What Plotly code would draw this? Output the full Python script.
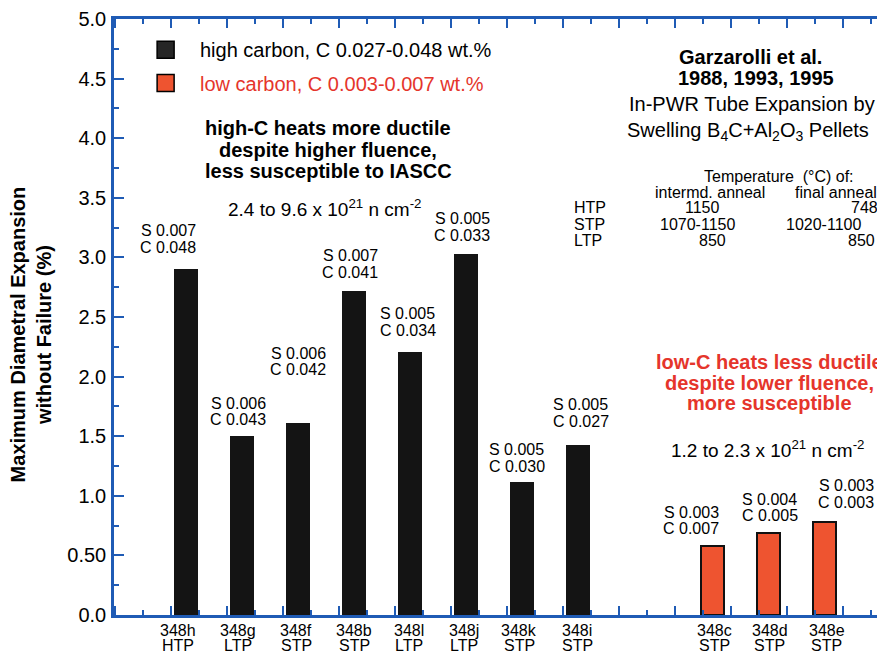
import numpy as np
import plotly.graph_objects as go

# ---------------- data ----------------
high_names = ["348h", "348g", "348f", "348b", "348l", "348j", "348k", "348i"]
high_types = ["HTP", "LTP", "STP", "STP", "LTP", "LTP", "STP", "STP"]
high_values = [2.90, 1.50, 1.61, 2.72, 2.21, 3.03, 1.12, 1.43]
high_S = ["0.007", "0.006", "0.006", "0.007", "0.005", "0.005", "0.005", "0.005"]
high_C = ["0.048", "0.043", "0.042", "0.041", "0.034", "0.033", "0.030", "0.027"]

low_names = ["348c", "348d", "348e"]
low_types = ["STP", "STP", "STP"]
low_values = [0.58, 0.69, 0.78]
low_S = ["0.003", "0.004", "0.003"]
low_C = ["0.007", "0.005", "0.003"]

y_tickvals = [0, 0.5, 1.0, 1.5, 2.0, 2.5, 3.0, 3.5, 4.0, 4.5, 5.0]
y_ticktext = ["0.0", "0.50", "1.0", "1.5", "2.0", "2.5", "3.0", "3.5", "4.0", "4.5", "5.0"]

temp_rows = ["HTP", "STP", "LTP"]
temp_intermd = ["1150", "1070-1150", "850"]
temp_final = ["748", "1020-1100", "850"]

# ---------------- layout helpers ----------------
BLUE = "#1f5bb5"
RED = "#e5352b"
BAR_RED = "#ee5430"
FONT = "Liberation Sans, Arial, Helvetica, sans-serif"

# page geometry (the html body adds an 8px margin)
OFF = 8
PAGE_W, PAGE_H = 885, 653
PL, PT, PB_Y, PR = 114, 15, 615, 885   # plot area in page pixels
W, H = PAGE_W - OFF, PAGE_H - OFF
PW, PH = PR - PL, PB_Y - PT


def pxx(p):
    return (p - PL) / PW


def pxy(p):
    return (PB_Y - p) / PH


high_x = np.arange(len(high_values)) + 0.27
low_x = np.arange(len(low_values)) + 9.67

# label placement (positions, not data)
high_lab_x = [-0.054, 1.196, 2.268, 3.196, 4.223, 5.196, 6.17, 7.316]
high_lab_y = [3.083, 1.639, 2.056, 2.875, 2.389, 3.186, 1.25, 1.625]
low_lab_x = [9.286, 10.696, 12.06]
low_lab_y = [0.7225, 0.833, 0.944]
high_cat_x = [0.125, 1.196, 2.232, 3.268, 4.25, 5.232, 6.214, 7.25]
low_cat_x = [9.696, 10.696, 11.714]

fig = go.Figure()

fig.add_trace(go.Bar(
    x=high_x, y=high_values, width=0.43,
    marker=dict(color="#141414", line=dict(width=0)),
    showlegend=False, hoverinfo="skip",
))
fig.add_trace(go.Bar(
    x=low_x, y=low_values, width=0.40,
    marker=dict(color=BAR_RED, line=dict(color="#111111", width=2)),
    showlegend=False, hoverinfo="skip",
))

# legend swatches
fig.add_trace(go.Scatter(
    x=[-0.098], y=[4.742], mode="markers",
    marker=dict(symbol="square", size=17, color="#262626",
                line=dict(color="#000000", width=1.5)),
    showlegend=False, hoverinfo="skip",
))
fig.add_trace(go.Scatter(
    x=[-0.098], y=[4.4625], mode="markers",
    marker=dict(symbol="square", size=17, color=BAR_RED,
                line=dict(color="#000000", width=1.5)),
    showlegend=False, hoverinfo="skip",
))

ann = []
LINE = 16.7 / 120.0


def add_lab(x, y, text, size=16, color="black"):
    ann.append(dict(x=x, y=y / 5.0, xref="x", yref="paper", text=text, showarrow=False,
                    xanchor="center", yanchor="middle",
                    font=dict(size=size, color=color, family=FONT)))


# bar composition labels
for xs, ys, S, C in ((high_lab_x, high_lab_y, high_S, high_C),
                     (low_lab_x, low_lab_y, low_S, low_C)):
    for x, y, s, c in zip(xs, ys, S, C):
        add_lab(x, y + LINE, "S " + s)
        add_lab(x, y, "C " + c)

# category labels under the axis
for xs, names, types in ((high_cat_x, high_names, high_types),
                         (low_cat_x, low_names, low_types)):
    for x, n, t in zip(xs, names, types):
        add_lab(x, -0.130, n)
        add_lab(x, -0.257, t)


def add_txt(px, py, text, size=20, color="black", bold=False, anchor="center"):
    if bold:
        text = "<b>" + text + "</b>"
    ann.append(dict(x=pxx(px), y=pxy(py), xref="paper", yref="paper", text=text,
                    showarrow=False, xanchor=anchor, yanchor="middle",
                    font=dict(size=size, color=color, family=FONT)))


# legend text
add_txt(198, 46, "high carbon, C 0.027-0.048 wt.%", 20, "black", anchor="left")
add_txt(198, 80, "low carbon, C 0.003-0.007 wt.%", 20, RED, anchor="left")

# high-C commentary
add_txt(328, 125, "high-C heats more ductile", 20, bold=True)
add_txt(328, 147, "despite higher fluence,", 20, bold=True)
add_txt(328, 168, "less susceptible to IASCC", 20, bold=True)
add_txt(325, 205, "2.4 to 9.6 x 10<sup>21</sup> n cm<sup>-2</sup>", 19)

# top-right title block
add_txt(750, 53, "Garzarolli et al.", 20, bold=True)
add_txt(756, 74, "1988, 1993, 1995", 20, bold=True)
add_txt(752, 101, "In-PWR Tube Expansion by", 20)
add_txt(748, 128, "Swelling B<sub>4</sub>C+Al<sub>2</sub>O<sub>3</sub> Pellets", 20)

# temperature table
add_txt(779, 174, "Temperature  (°C) of:", 16)
add_txt(710, 190, "intermd. anneal", 16)
add_txt(836, 190, "final anneal", 16)
row_y = [205, 222, 238]
intermd_x = [702, 697, 712]
final_x = [880, 863, 877]
for ry, r in zip(row_y, temp_rows):
    add_txt(572, ry, r, 16, anchor="left")
for ry, ix, a in zip(row_y, intermd_x, temp_intermd):
    add_txt(ix, ry, a, 16)
for ry, fx, f in zip(row_y, final_x, temp_final):
    add_txt(fx, ry, f, 16, anchor="right")

# low-C commentary
add_txt(769, 360, "low-C heats less ductile", 20, RED, bold=True)
add_txt(769, 381, "despite lower fluence,", 20, RED, bold=True)
add_txt(769, 402, "more susceptible", 20, RED, bold=True)
add_txt(768, 448, "1.2 to 2.3 x 10<sup>21</sup> n cm<sup>-2</sup>", 19)

# y-axis title
ann.append(dict(x=pxx(30.5), y=pxy(333), xref="paper", yref="paper",
                text="<b>Maximum Diametral Expansion<br>without Failure (%)</b>",
                textangle=-90, showarrow=False, xanchor="center", yanchor="middle",
                font=dict(size=20, color="black", family=FONT)))

fig.update_layout(
    width=W, height=H,
    margin=dict(l=PL - OFF, r=0, t=PT - OFF, b=PAGE_H - PB_Y, pad=0),
    paper_bgcolor="white", plot_bgcolor="white",
    annotations=ann,
    font=dict(family=FONT, color="black"),
    bargap=0,
)

fig.update_xaxes(
    range=[-1.02, 12.75],
    tickmode="array", tickvals=list(range(-1, 14)),
    showticklabels=False,
    ticks="inside", ticklen=9, tickwidth=2, tickcolor=BLUE,
    minor=dict(dtick=0.5, tick0=-0.5, ticks="inside", ticklen=5, tickwidth=2, tickcolor=BLUE),
    showline=True, linecolor=BLUE, linewidth=2.5, mirror="ticks",
    showgrid=False, zeroline=False,
)
fig.update_yaxes(
    range=[0, 5],
    tickmode="array", tickvals=y_tickvals, ticktext=y_ticktext,
    ticks="inside", ticklen=10, tickwidth=2, tickcolor=BLUE,
    minor=dict(dtick=0.25, tick0=0, ticks="inside", ticklen=5, tickwidth=2, tickcolor=BLUE),
    showline=True, linecolor=BLUE, linewidth=2.5,
    showgrid=False, zeroline=False,
    tickfont=dict(size=20, color="black", family=FONT),
    ticklabelstandoff=1,
    ticklabeloverflow="allow",
)

fig.write_html("out.html")
